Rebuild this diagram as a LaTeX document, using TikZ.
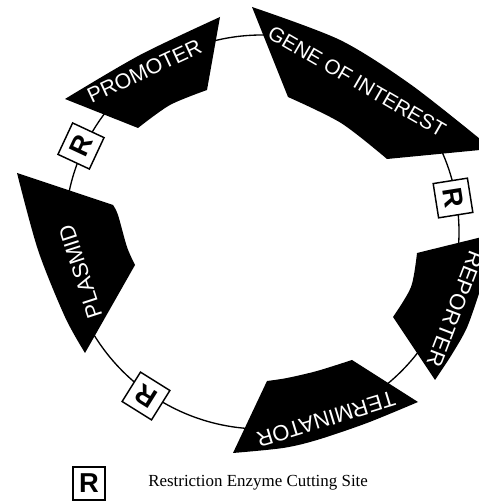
\documentclass[tikz,border=0pt]{standalone}
\usepackage{fontspec}
\setmainfont{Liberation Serif}
\newfontfamily\lsans{Liberation Sans}
\begin{document}
\begin{tikzpicture}[x=0.75pt,y=0.75pt,
  blk/.style={fill=black},
  lbl/.style={text=white,inner sep=0pt,font=\lsans\fontsize{#1}{#1}\selectfont},
  lbl/.default=16,
  rbox/.style={draw=black,line width=1.1pt,fill=white,minimum size=26pt,inner sep=0pt,
    font=\lsans\bfseries\fontsize{20.5}{20.5}\selectfont},
  ring/.style={line width=1pt}]
\useasboundingbox (0,0) rectangle (478,502);
\coordinate (c) at (262,270);
% plasmid ring
\draw[ring] (c) circle[radius=197];
% PROMOTER
\fill[blk] plot[smooth] coordinates {(65,403) (140,447) (220,485)}
  -- plot[smooth] coordinates {(207,412) (170,397) (138,374)} -- cycle;
% GENE OF INTEREST
\fill[blk] plot[smooth] coordinates {(252,495) (340,462) (410,418) (480,363)}
  -- (480,352) -- plot[smooth] coordinates {(387,343) (341,379) (288,405)} -- cycle;
% REPORTER
\fill[blk] (417,249) -- (482,265) -- (482,214)
  -- plot[smooth] coordinates {(480,211.5) (467,174.5) (451.5,147) (435,122)}
  -- plot[smooth] coordinates {(393,185) (411,215) (417,249)} -- cycle;
% TERMINATOR
\fill[blk] plot[smooth] coordinates {(267,121) (287,124) (317,131) (352,142)}
  -- plot[smooth] coordinates {(418,100) (367,79) (317,62) (283,54) (233,49)} -- cycle;
% PLASMID
\fill[blk] (17,329) -- plot[smooth] coordinates {(113,297) (118,287) (127,255) (135,237)}
  -- plot[smooth] coordinates {(85,149) (65,185) (38,252) (17,329)} -- cycle;
% labels
\node[lbl=16,rotate=25] (promoter) at (144.4,431) {PROMOTER};
\node[lbl=15.5,rotate=-30] (gene) at (357,420.5) {GENE OF INTEREST};
\node[lbl=16.5,rotate=-111] (reporter) at (455,193) {REPORTER};
\node[lbl=16.5,rotate=-163] (terminator) at (326,83) {TERMINATOR};
\node[lbl=16.5,rotate=108] (plasmid) at (80.5,230.5) {PLASMID};
% restriction sites
\node[rbox,rotate=65] (r1) at (81,356) {R};
\node[rbox,rotate=-81] (r2) at (453,304) {R};
\node[rbox,rotate=148] (r3) at (146,106) {R};
% legend
\node[rbox,minimum width=24pt,minimum height=24.75pt] (rl) at (89,18.5) {R};
\node[anchor=base west,inner sep=0pt,font=\fontsize{12.7}{14}\selectfont] (legend) at (148,15.5) {Restriction Enzyme Cutting Site};
\end{tikzpicture}
\end{document}
